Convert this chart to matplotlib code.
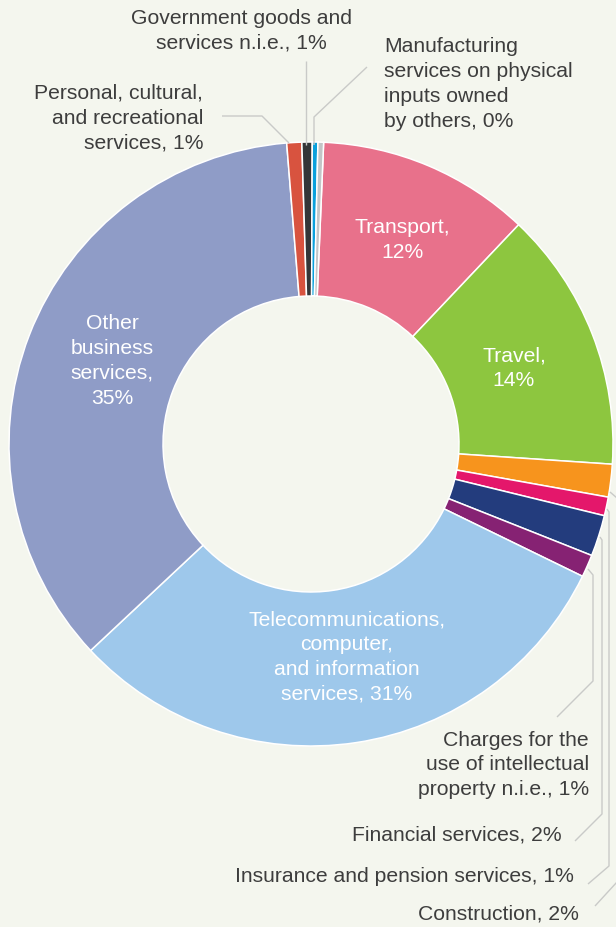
import matplotlib
matplotlib.use("Agg")
import matplotlib.pyplot as plt

categories = ["Transport", "Travel", "Construction", "Insurance and pension services",
              "Financial services", "Charges for the use of intellectual property n.i.e.",
              "Telecommunications, computer, and information services",
              "Other business services", "Personal, cultural, and recreational services",
              "Government goods and services n.i.e.",
              "Manufacturing services on physical inputs owned by others",
              "Maintenance and repair services n.i.e."]
shares = [11.4, 14.0, 1.75, 1.0, 2.2, 1.2, 30.8, 35.7, 0.8, 0.55, 0.3, 0.3]
colors = ["#e8718b", "#8dc63f", "#f7941d", "#e4176b", "#233c7d", "#862273",
          "#9ec8eb", "#8f9cc7", "#d8533f", "#343638", "#0ba0dc", "#c3c5c7"]

BG = "#f4f6ee"
TXT = "#3d3d3d"
LINE = "#c9cac8"
W, H = 616, 928

plt.rcParams['font.family'] = ['Liberation Sans', 'DejaVu Sans']
fig = plt.figure(figsize=(W / 100, H / 100), dpi=100, facecolor=BG)
ax = fig.add_axes([0, 0, 1, 1])
ax.set_facecolor(BG)

def Y(py):
    return H - py

cx, cy, R = 311, 445, 302
ax.pie(shares, colors=colors, startangle=87.6, counterclock=False,
       center=(cx, Y(cy)), radius=R, frame=True,
       wedgeprops=dict(width=R * 0.51, edgecolor='white', linewidth=1.1))
ax.set_xlim(0, W)
ax.set_ylim(0, H)
ax.set_aspect('equal')
ax.axis('off')

fs = 15.2
def txt(x, y, s, ha='center', color=TXT):
    ax.text(x, Y(y), s, ha=ha, va='center', fontsize=fs, color=color,
            linespacing=1.38)

# inner labels
txt(402, 240, "Transport,\n12%", color='white')
txt(514, 368, "Travel,\n14%", color='white')
txt(112, 361, "Other\nbusiness\nservices,\n35%", color='white')
txt(347, 657, "Telecommunications,\ncomputer,\nand information\nservices, 31%", color='white')

# outer labels
txt(241, 31, "Government goods and\nservices n.i.e., 1%")
txt(384, 84, "Manufacturing\nservices on physical\ninputs owned\nby others, 0%", ha='left')
txt(203, 118, "Personal, cultural,\nand recreational\nservices, 1%", ha='right')
txt(589, 765, "Charges for the\nuse of intellectual\nproperty n.i.e., 1%", ha='right')
txt(562, 835, "Financial services, 2%", ha='right')
txt(574, 877, "Insurance and pension services, 1%", ha='right')
txt(579, 914, "Construction, 2%", ha='right')

def leader(pts):
    xs = [p[0] for p in pts]
    ys = [Y(p[1]) for p in pts]
    ax.plot(xs, ys, color=LINE, lw=1.0, solid_capstyle='butt', zorder=1)

leader([(306, 62), (306, 146)])
leader([(367, 68), (314, 118), (314, 146)])
leader([(222, 117), (262, 117), (289, 144)])
leader([(588, 570), (593, 576), (593, 682), (557, 718)])
leader([(600, 538), (602, 541), (602, 815), (575, 842)])
leader([(607, 510), (609, 513), (609, 867), (588, 885)])
leader([(610, 493), (617, 499), (617, 883), (595, 907)])

fig.savefig("out.png", dpi=100, facecolor=BG)
